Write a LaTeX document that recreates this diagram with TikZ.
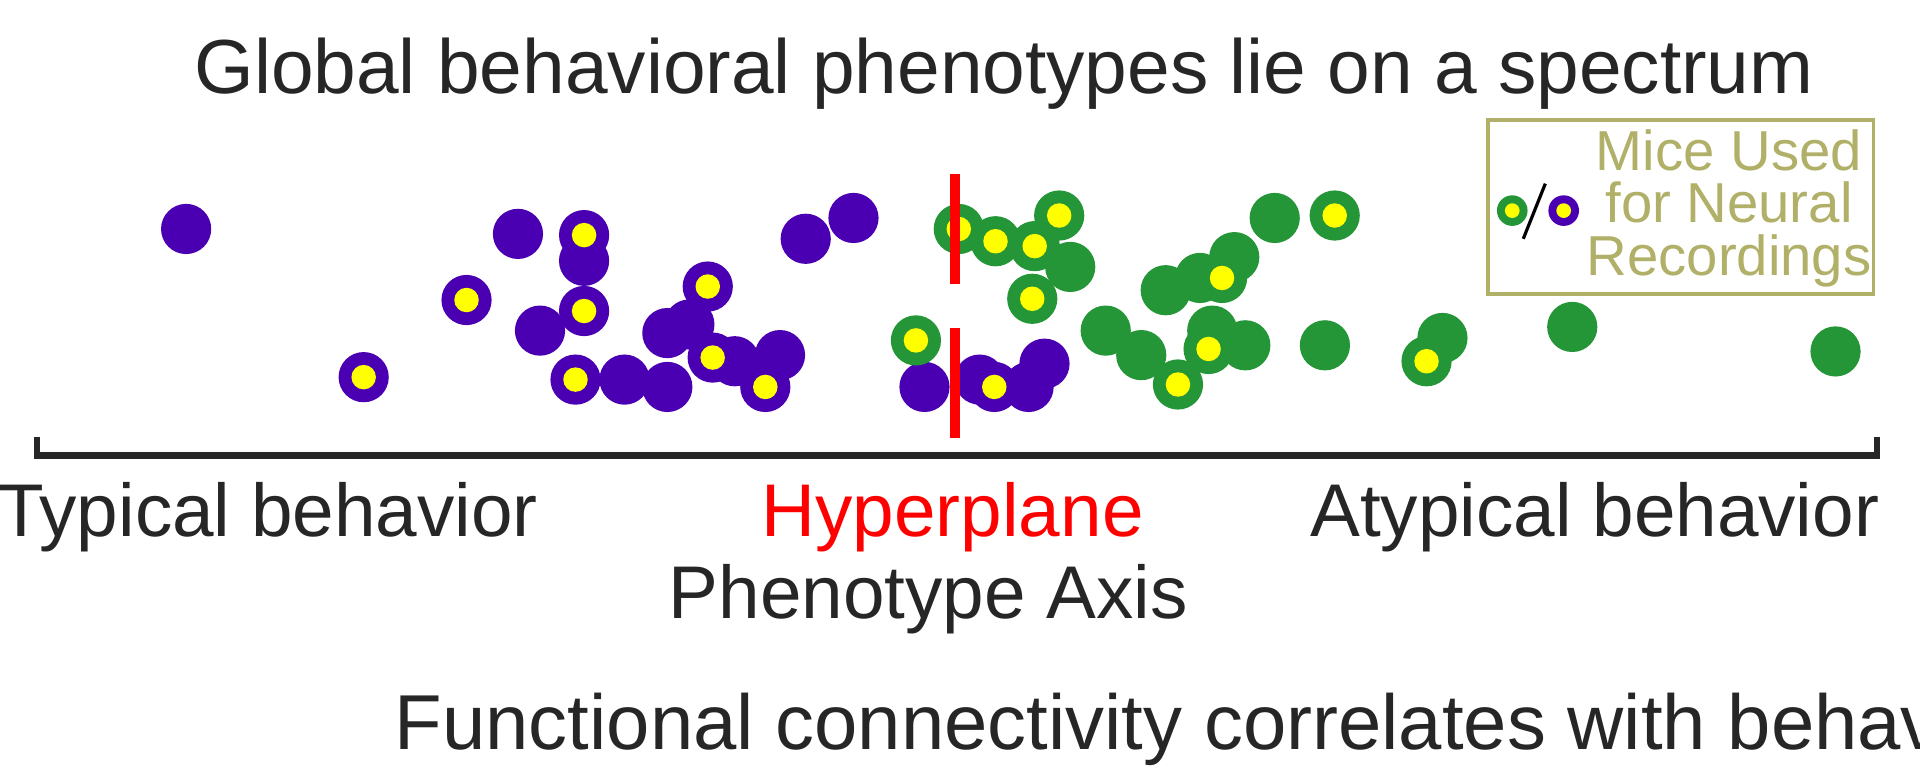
\documentclass[tikz,border=0pt]{standalone}
\usepackage{fontspec}
\setmainfont{Liberation Sans}
\definecolor{pur}{RGB}{74,0,178}
\definecolor{grn}{RGB}{36,150,56}
\definecolor{yel}{RGB}{255,255,0}
\definecolor{oli}{RGB}{176,176,104}
\definecolor{txt}{RGB}{38,38,38}
\begin{document}
\begin{tikzpicture}[x=0.5pt,y=-0.5pt,
  ps/.style={fill=pur,circle,inner sep=0pt,minimum size=20.5pt},
  gs/.style={fill=grn,circle,inner sep=0pt,minimum size=20.5pt},
  yc/.style={fill=yel,circle,inner sep=0pt,minimum size=10pt}]
\useasboundingbox (0,0) rectangle (1568,627);
\clip (0,0) rectangle (1568,627);
\node[text=txt,font=\fontsize{31.3}{36}\selectfont] (title) at (820,60) {Global behavioral phenotypes lie on a spectrum};
% purple solid
\foreach \x/\y [count=\i] in {152/187,423/191,477/213,441/270,510/310,545/316,545/272,563/265,600/295,637/290,658/195,697/178,755/316,800/310,840/316,853/297}
  \node[ps] (p\i) at (\x,\y) {};
% purple with yellow
\foreach \x/\y [count=\i] in {297/308,477/192,381/245,477/254,470/310,578/234,582/292,625/316,812/316}
  {\node[ps] (py\i) at (\x,\y) {}; \node[yc] at (py\i) {};}
% green solid
\foreach \x/\y [count=\i] in {874/218,1041/178,952/237,980/227,1008/210,903/270,932/290,1017/282,990/270,1082/282,1178/276,1284/267,1499/287}
  \node[gs] (g\i) at (\x,\y) {};
% green with yellow
\foreach \x/\y [count=\i] in {783/187,813/197,845/201,865/176,843/244,748/278,998/227,987/285,962/314,1090/176,1165/295}
  {\node[gs] (gy\i) at (\x,\y) {}; \node[yc] at (gy\i) {};}
% hyperplane
\draw[red,line width=4pt,dash pattern=on 45pt off 18pt] (780,142) -- (780,368);
% axis
\draw[txt,line width=2.5pt] (30,357) -- (30,372) -- (1533,372) -- (1533,357);
\node[txt,anchor=base west,inner sep=0pt,font=\fontsize{30.5}{36}\selectfont] (typ) at (-2,438) {Typical behavior};
\node[red,anchor=base,font=\fontsize{30.5}{36}\selectfont] (hyp) at (778,438) {Hyperplane};
\node[txt,anchor=base east,inner sep=0pt,font=\fontsize{30.5}{36}\selectfont] (atyp) at (1535,438) {Atypical behavior};
\node[txt,anchor=base,font=\fontsize{30.5}{36}\selectfont] (axis) at (758,505) {Phenotype Axis};
\node[txt,anchor=base west,inner sep=0pt,font=\fontsize{31.8}{36}\selectfont] (func) at (322,612) {Functional connectivity correlates with behavior};
% legend
\draw[oli,line width=1.5pt] (1215,98) rectangle (1530,240);
\node[oli,align=center,font=\fontsize{23}{21.5}\selectfont] (leg) at (1412,170) {Mice Used\\for Neural\\Recordings};
\node[fill=grn,circle,inner sep=0pt,minimum size=12.5pt] (lg) at (1235,172) {};
\node[yc,minimum size=6pt] at (lg) {};
\node[fill=pur,circle,inner sep=0pt,minimum size=12.5pt] (lp) at (1277,172) {};
\node[yc,minimum size=6pt] at (lp) {};
\draw[black,line width=1.3pt] (1244,195) -- (1262,150);
\end{tikzpicture}
\end{document}
